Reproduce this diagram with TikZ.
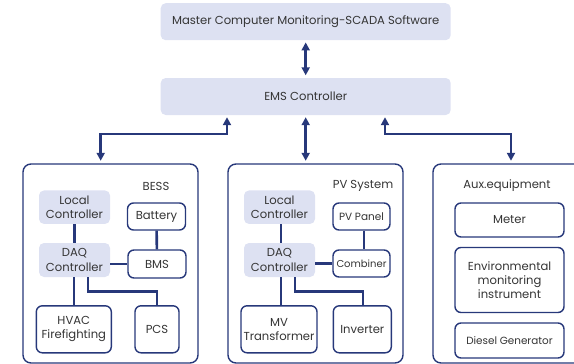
\documentclass[tikz,border=0pt]{standalone}
\usepackage{fontspec}
\setmainfont{Poppins}
\usetikzlibrary{arrows.meta}
\definecolor{navy}{HTML}{27387A}
\definecolor{lav}{HTML}{DDE1F2}
\definecolor{txt}{HTML}{353535}
\begin{document}
\begin{tikzpicture}[x=1pt,y=-1pt,
  every node/.style={text=txt, font=\fontsize{11.6}{14.2}\selectfont, align=center, inner sep=0pt},
  fillbox/.style={fill=lav, rounded corners=5pt},
  whitebox/.style={draw=navy, line width=1.4pt, fill=white, rounded corners=6pt},
  outerbox/.style={draw=navy, line width=1.4pt, rounded corners=8pt},
  conn/.style={draw=navy, line width=2.6pt},
  arr/.style={conn, {Triangle[width=8pt,length=8pt]}-{Triangle[width=8pt,length=8pt]}, shorten <=2pt, shorten >=2.5pt}]
\useasboundingbox (0,0) rectangle (574,364);
\clip (0,0) rectangle (574,364);
% top boxes
\node[fillbox, minimum width=290pt, minimum height=37pt] (master) at (305.7,21.7) {Master Computer Monitoring-SCADA Software};
\node[fillbox, minimum width=290pt, minimum height=37pt] (ems) at (305.7,96.5) {EMS Controller};
% outer group boxes
\node[outerbox, minimum width=175pt, minimum height=199pt] (bess) at (110.5,263.5) {};
\node[outerbox, minimum width=175pt, minimum height=199pt] (pv) at (315.5,263.5) {};
\node[outerbox, minimum width=160pt, minimum height=199pt] (aux) at (513,263.5) {};
\node (bessl) at (156,186) {BESS};
\node (pvl) at (363,186) {PV System};
\node (auxl) at (507,185.5) {Aux.equipment};
% connectors top
\draw[arr] (master) -- (ems);
\coordinate (bl) at (100.7,134);
\coordinate (br) at (511,134);
\draw[arr] ([xshift=-78.7pt]ems.south) |- (bl) -- (bl |- bess.north);
\draw[arr] (ems.south) -- (ems.south |- pv.north);
\draw[arr] ([xshift=79.3pt]ems.south) |- (br) -- (br |- aux.north);
% BESS internals
\node[fillbox, minimum width=71pt, minimum height=33.5pt] (blc) at (74.5,207.2) {Local\\Controller};
\node[fillbox, minimum width=71pt, minimum height=34pt] (bdaq) at (74.5,260) {DAQ\\Controller};
\node[whitebox, minimum width=58pt, minimum height=27pt] (bat) at (156.5,216.5) {Battery};
\node[whitebox, minimum width=58pt, minimum height=28pt] (bms) at (157,264) {BMS};
\node[whitebox, minimum width=75pt, minimum height=47pt] (hvac) at (73.8,329.3) {HVAC\\Firefighting};
\node[whitebox, minimum width=44pt, minimum height=47pt] (pcs) at (157,329.3) {PCS};
% PV internals
\node[fillbox, minimum width=71pt, minimum height=33.5pt] (plc) at (279.5,207.2) {Local\\Controller};
\node[fillbox, minimum width=71pt, minimum height=34pt] (pdaq) at (279.5,260) {DAQ\\Controller};
\node[whitebox, minimum width=57pt, minimum height=27pt] (pvp) at (361.5,216.5) {\fontsize{10.5}{13}\selectfont PV Panel};
\node[whitebox, minimum width=57pt, minimum height=27pt] (comb) at (361.5,263.5) {\fontsize{10}{12}\selectfont Combiner};
\node[whitebox, minimum width=76pt, minimum height=47pt] (mvt) at (279,329.3) {MV\\Transformer};
\node[whitebox, minimum width=58pt, minimum height=47pt] (inv) at (362.3,329.3) {Inverter};
% Aux internals
\node[whitebox, minimum width=109pt, minimum height=34pt] (meter) at (509.5,220) {Meter};
\node[whitebox, minimum width=109pt, minimum height=65pt] (env) at (509.5,280) {\fontsize{11.6}{12.8}\selectfont Environmental\\monitoring\\instrument};
\node[whitebox, minimum width=109pt, minimum height=35pt] (dg) at (509.5,340.5) {\fontsize{10.4}{12}\selectfont Diesel Generator};
% internal connectors BESS
\draw[conn] (blc) -- (bdaq);
\draw[conn] (bdaq.east |- bms) -- (bms.west);
\draw[conn] (bat) -- (bms);
\draw[conn] (bdaq.south -| hvac) -- (hvac.north);
\coordinate (bk) at (88,291.7);
\draw[conn] (bk |- bdaq.south) -- (bk) -| (pcs.north);
% internal connectors PV
\draw[conn] (plc.south -| 281,0) -- (pdaq.north -| 281,0);
\draw[conn] (pdaq.east |- comb) -- (comb.west);
\draw[conn] (pvp.south -| 364,0) -- (comb.north -| 364,0);
\draw[conn] (pdaq.south -| 281,0) -- (mvt.north -| 281,0);
\coordinate (pk) at (295,291.7);
\draw[conn] (pk |- pdaq.south) -- (pk) -| (inv.north -| 363,0);
\end{tikzpicture}
\end{document}
